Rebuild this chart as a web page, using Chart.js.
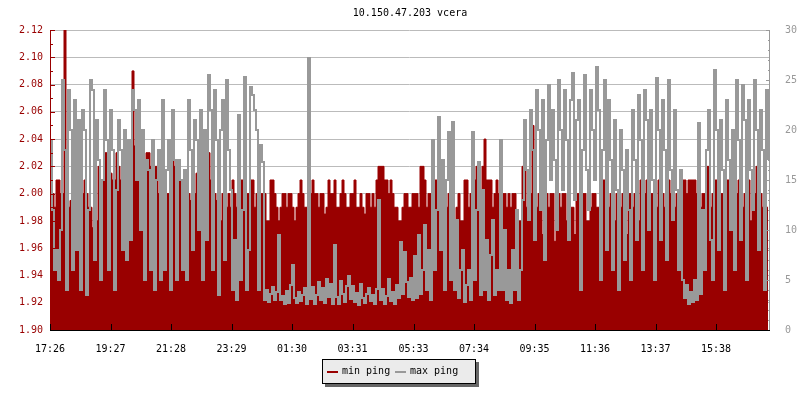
<!DOCTYPE html>
<html>
<head>
<meta charset="utf-8">
<script src="https://cdn.jsdelivr.net/npm/chart.js@4.4.0/dist/chart.umd.min.js"></script>
<style>
  html, body { margin: 0; padding: 0; background: #fff; }
  #wrap { position: relative; width: 800px; height: 400px; }
  #legend {
    position: absolute; left: 322px; top: 359px; width: 152px; height: 23px;
    background: #ebebeb; border: 1px solid #000; box-shadow: 3px 3px 0 #666;
    font: 10px 'DejaVu Sans Mono', monospace; color: #000;
  }
  #legend .sw { position: absolute; top: 11px; width: 11px; height: 2px; }
  #legend .tx { position: absolute; top: 5px; line-height: 12px; white-space: pre; }
</style>
</head>
<body>
<div id="wrap">
  <canvas id="chart" width="800" height="400"></canvas>
  <div id="legend">
    <span class="sw" style="left:4px;background:#990000"></span><span class="tx" style="left:19px">min ping</span>
    <span class="sw" style="left:72px;background:#999999"></span><span class="tx" style="left:87px">max ping</span>
  </div>
</div>
<script>
// popis grafu
const chartTitle = '10.150.47.203 vcera';
const timeLabels = ['17:26', '19:27', '21:28', '23:29', '01:30', '03:31', '05:33', '07:34', '09:35', '11:36', '13:37', '15:38'];
const leftTicks = [1.90, 1.92, 1.94, 1.96, 1.98, 2.00, 2.02, 2.04, 2.06, 2.08, 2.10, 2.12];
const rightTicks = [0, 5, 10, 15, 20, 25, 30];
const stepMinutes = 4; // jeden vzorek = 4 minuty

// min ping [ms] - levá osa
const minPing = [
  1.99, 2.00, 1.99, 2.01, 2.01, 2.00, 2.00, 2.12, 2.00, 1.99,
  1.995, 2.00, 2.00, 2.025, 2.02, 2.02, 2.00, 2.01, 2.00, 1.99,
  1.99, 1.975, 1.98, 1.98, 2.02, 2.00, 2.01, 2.03, 2.03, 2.02,
  2.015, 2.01, 2.01, 2.03, 2.02, 2.01, 2.00, 2.01, 2.01, 2.00,
  2.01, 2.09, 2.035, 2.03, 2.03, 2.02, 2.02, 2.025, 2.03, 2.03,
  2.02, 2.02, 2.02, 2.02, 2.00, 1.995, 1.99, 1.99, 2.00, 2.00,
  2.03, 2.03, 2.02, 2.015, 2.01, 2.01, 2.01, 2.00, 2.00, 2.00,
  1.995, 2.00, 2.00, 2.015, 2.01, 2.015, 2.01, 2.01, 2.01, 2.03,
  2.01, 2.00, 2.00, 1.995, 1.98, 1.98, 2.00, 1.99, 1.99, 2.00,
  1.99, 2.01, 2.00, 1.99, 2.00, 2.01, 2.01, 1.99, 2.00, 2.00,
  2.01, 2.01, 1.99, 2.00, 2.01, 2.00, 2.00, 2.00, 1.98, 1.98,
  2.01, 2.01, 2.00, 1.99, 1.98, 1.99, 2.00, 2.00, 1.99, 2.00,
  2.00, 1.99, 1.98, 1.99, 2.00, 2.01, 2.00, 1.99, 1.99, 1.99,
  2.00, 2.01, 2.00, 2.00, 1.99, 2.00, 2.00, 1.985, 1.99, 2.01,
  2.00, 2.00, 2.01, 1.99, 1.99, 2.00, 2.01, 2.00, 1.99, 1.99,
  2.00, 2.00, 2.01, 1.99, 1.99, 2.00, 1.99, 1.985, 2.00, 2.00,
  1.99, 2.00, 1.99, 2.01, 2.02, 2.02, 2.02, 2.01, 2.01, 2.00,
  2.01, 2.00, 1.99, 1.99, 1.98, 1.98, 1.99, 2.00, 2.00, 1.99,
  1.99, 2.00, 2.00, 2.00, 1.99, 2.02, 2.02, 2.01, 1.99, 2.00,
  2.00, 1.98, 2.01, 2.01, 1.99, 2.00, 2.01, 2.00, 1.99, 2.00,
  2.01, 2.00, 1.98, 1.99, 2.00, 1.98, 1.98, 2.01, 2.01, 1.99,
  2.00, 2.00, 2.01, 2.02, 2.01, 2.00, 2.02, 2.04, 2.01, 2.01,
  2.01, 1.99, 2.00, 2.01, 2.00, 1.99, 2.00, 2.00, 1.99, 2.00,
  1.99, 2.00, 2.00, 1.98, 1.98, 1.98, 2.02, 2.02, 1.99, 2.00,
  2.00, 2.05, 1.99, 1.99, 2.00, 2.00, 1.97, 2.00, 2.00, 1.99,
  2.00, 2.00, 1.965, 2.00, 2.00, 1.99, 2.00, 2.00, 1.98, 2.00,
  1.99, 1.99, 1.97, 2.00, 2.00, 1.99, 2.00, 2.00, 1.98, 1.98,
  1.99, 2.00, 2.00, 1.99, 1.99, 2.02, 2.01, 2.01, 2.00, 1.99,
  2.00, 2.00, 1.98, 2.00, 2.00, 1.99, 2.00, 2.00, 1.97, 2.00,
  2.00, 1.99, 2.00, 2.00, 1.98, 2.01, 2.01, 2.00, 2.01, 2.01,
  2.00, 2.00, 2.00, 1.99, 2.01, 2.01, 2.00, 1.99, 2.01, 2.01,
  2.00, 1.99, 1.99, 2.00, 2.00, 2.01, 2.01, 2.01, 2.00, 2.01,
  2.01, 2.01, 2.01, 2.00, 2.00, 1.99, 2.00, 2.00, 2.02, 2.02,
  1.99, 2.00, 2.01, 2.01, 1.98, 2.00, 2.00, 1.99, 2.01, 2.01,
  2.00, 1.99, 2.00, 2.00, 2.01, 1.99, 1.99, 2.00, 2.01, 2.01,
  1.98, 2.00, 2.00, 2.02, 2.00, 2.00, 1.99, 1.98, 1.99, 1.99
];

// max ping [ms] - pravá osa
const maxPing = [
  19, 12, 6, 8, 5, 10, 25, 18, 4, 24,
  20, 6, 23, 8, 21, 4, 22, 20, 3.5, 12,
  25, 24, 7, 21, 17, 5, 15, 24, 19, 6,
  22, 18, 4, 14, 21, 18, 8, 20, 7, 19,
  9, 24, 22, 15, 23, 10, 20, 5, 17, 16,
  6, 19, 4, 15, 18, 5, 23, 6, 16, 19,
  4, 22, 17, 5, 17, 15, 6, 16, 5, 23,
  18, 8, 21, 19, 10, 22, 5, 20, 9, 25.5,
  22, 6, 24, 19, 3.5, 20, 23, 7, 25, 18,
  14, 4, 9, 3, 21.5, 5, 12, 25.3, 4, 8,
  24.3, 23.5, 22, 20, 4, 18.5, 16.8, 3, 4, 2.8,
  3.6, 4.3, 3, 3.8, 9.5, 3, 3.4, 2.6, 3.9, 2.7,
  4.5, 6.5, 3.2, 2.7, 3.8, 2.9, 3.5, 4.2, 2.6, 27.2,
  3.1, 4.3, 2.6, 3.5, 4.8, 3, 4.2, 2.7, 5.1, 3.3,
  4.6, 2.6, 8.5, 3.3, 2.6, 4.9, 3.6, 2.8, 4.4, 5.4,
  3.1, 4.4, 2.8, 3.7, 2.5, 4.6, 3.2, 2.7, 3.6, 4.2,
  2.9, 3.5, 2.6, 4.1, 13, 3, 4.1, 2.6, 3.4, 5.1,
  2.9, 3.8, 2.6, 4.5, 3.2, 8.8, 3.6, 7.8, 4.8, 3.3,
  5.2, 3, 7.4, 3.2, 9.5, 3.6, 6, 10.5, 4, 8,
  3, 19, 6, 12, 21.3, 8, 17, 4, 15, 19.8,
  5, 20.8, 4, 11, 3.2, 6, 8, 2.8, 4.5, 6,
  3, 19.8, 5, 12, 16.8, 3.5, 14, 4, 9, 3,
  7.5, 11, 3.5, 6, 4, 19, 4, 10, 3, 6,
  2.7, 8, 4, 12, 3, 6, 13, 21, 16, 11,
  22, 18, 9, 24, 20, 12, 23, 7, 19, 24.5,
  15, 22, 17, 10, 25, 20, 14, 24, 19, 9,
  23, 25.7, 13, 21, 23, 4, 18, 25.5, 16, 12,
  24, 20, 15, 26.3, 22, 5, 18, 25, 8, 23,
  17, 6, 21, 14, 4, 20, 16, 7, 18, 12,
  5, 22, 17, 9, 23.5, 19, 6, 24, 21, 10,
  22, 15, 5, 25.2, 20, 9, 23, 18, 7, 25,
  16, 11, 22, 14, 6, 16, 5, 3.2, 4.5, 2.6,
  3.8, 2.8, 5, 3, 20.7, 3.6, 12, 6, 18, 22,
  9, 5, 26, 20, 8, 21, 16, 4, 23, 17,
  10, 20, 6, 25, 19, 9, 24.5, 21, 5, 23,
  16, 12, 25, 20, 8, 22, 18, 4, 24, 17
];

const monoFont = { family: "'DejaVu Sans Mono', monospace", size: 10 };

// minuty od začátku grafu (17:26)
function minutesFromStart(label) {
  const [h, m] = label.split(':').map(Number);
  return ((h * 60 + m) - (17 * 60 + 26) + 1440) % 1440;
}
const tickMinutes = timeLabels.map(minutesFromStart);

// titulek
const titlePlugin = {
  id: 'rrdTitle',
  afterDraw(chart) {
    const ctx = chart.ctx;
    ctx.save();
    ctx.font = "10px 'DejaVu Sans Mono'";
    ctx.fillStyle = '#000';
    ctx.textAlign = 'center';
    ctx.textBaseline = 'middle';
    ctx.fillText(chartTitle, 410, 13);
    ctx.restore();
  }
};

// osy a značky dovnitř grafu
const axisPlugin = {
  id: 'rrdAxes',
  afterDatasetsDraw(chart) {
    const { ctx, chartArea: a, scales } = chart;
    ctx.save();
    ctx.lineWidth = 1;

    ctx.strokeStyle = '#990000';
    ctx.beginPath();
    ctx.moveTo(a.left + 0.5, a.top);
    ctx.lineTo(a.left + 0.5, a.bottom);
    for (let k = 0; k <= 22; k++) {
      const y = Math.round(scales.y.getPixelForValue(1.90 + k * 0.01)) + 0.5;
      ctx.moveTo(a.left, y);
      ctx.lineTo(a.left + (k % 2 ? 3 : 5), y);
    }
    ctx.stroke();

    ctx.strokeStyle = '#999999';
    ctx.beginPath();
    ctx.moveTo(a.right + 0.5, a.top);
    ctx.lineTo(a.right + 0.5, a.bottom);
    for (let k = 0; k <= 30; k++) {
      const y = Math.round(scales.y1.getPixelForValue(k)) + 0.5;
      ctx.moveTo(a.right + 1, y);
      ctx.lineTo(a.right + 1 - (k % 5 ? 2 : 4), y);
    }
    ctx.stroke();

    ctx.strokeStyle = '#000';
    ctx.beginPath();
    ctx.moveTo(a.left, a.bottom + 0.5);
    ctx.lineTo(a.right + 1, a.bottom + 0.5);
    tickMinutes.forEach(m => {
      const x = Math.round(scales.x.getPixelForValue(m)) + 0.5;
      ctx.moveTo(x, a.bottom);
      ctx.lineTo(x, a.bottom - 6);
    });
    ctx.stroke();
    ctx.restore();
  }
};

new Chart(document.getElementById('chart'), {
  type: 'line',
  data: {
    datasets: [{
      label: 'max ping',
      data: maxPing.map((v, i) => ({ x: i * stepMinutes, y: v })),
      yAxisID: 'y1',
      borderColor: '#999999',
      borderWidth: 2,
      stepped: true,
      pointRadius: 0,
      fill: false,
      order: 0
    }, {
      label: 'min ping',
      data: minPing.map((v, i) => ({ x: i * stepMinutes, y: v })),
      yAxisID: 'y',
      borderColor: '#990000',
      backgroundColor: '#990000',
      borderWidth: 1,
      stepped: true,
      pointRadius: 0,
      fill: 'start',
      order: 1
    }]
  },
  options: {
    responsive: false,
    animation: false,
    devicePixelRatio: 1,
    events: [],
    layout: { padding: { top: 30 } },
    plugins: {
      legend: { display: false },
      title: { display: false },
      tooltip: { enabled: false }
    },
    scales: {
      x: {
        type: 'linear',
        min: 0,
        max: 1438,
        afterBuildTicks: s => { s.ticks = tickMinutes.map(v => ({ value: v })); },
        afterFit: s => { s.height = 70; },
        grid: { display: false },
        border: { display: false },
        ticks: {
          autoSkip: false,
          maxRotation: 0,
          padding: 5,
          color: '#000',
          font: monoFont,
          callback: v => timeLabels[tickMinutes.indexOf(v)]
        }
      },
      y: {
        position: 'left',
        min: 1.90,
        max: 2.12,
        afterBuildTicks: s => { s.ticks = leftTicks.map(v => ({ value: v })); },
        afterFit: s => { s.width = 50; },
        grid: { color: '#bbbbbb', drawTicks: false },
        border: { display: false },
        ticks: {
          padding: 7,
          color: '#990000',
          font: monoFont,
          callback: v => Number(v).toFixed(2)
        }
      },
      y1: {
        position: 'right',
        min: 0,
        max: 30,
        afterBuildTicks: s => { s.ticks = rightTicks.map(v => ({ value: v })); },
        afterFit: s => { s.width = 31; },
        grid: { display: false },
        border: { display: false },
        ticks: {
          padding: 8,
          color: '#999999',
          font: monoFont
        }
      }
    }
  },
  plugins: [titlePlugin, axisPlugin]
});
</script>
</body>
</html>
